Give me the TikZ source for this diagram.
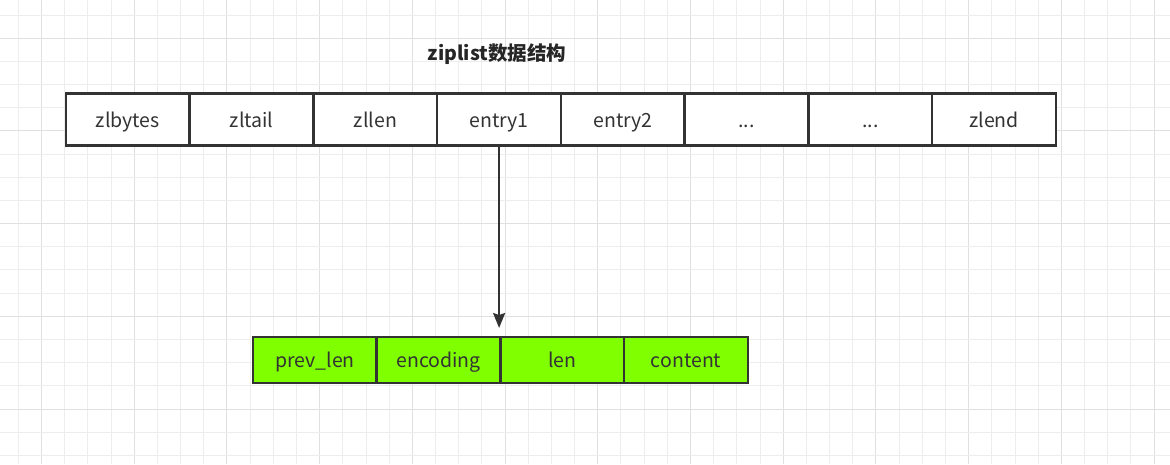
\documentclass[tikz,border=0pt]{standalone}
\usepackage{fontspec}
\setmainfont{Noto Sans CJK SC}
\usepackage{tikz}
\usetikzlibrary{arrows.meta}

\definecolor{gridminor}{HTML}{EDEDED}
\definecolor{gridmajor}{HTML}{E0E0E0}
\definecolor{cellline}{HTML}{333333}
\definecolor{fieldgreen}{HTML}{80FF00}

\begin{document}
\begin{tikzpicture}[x=1pt, y=-1pt,
	cell/.style = {draw = cellline, line width = 2.5pt, fill = white, text = black!80,
		minimum width = 123.75pt, minimum height = 52pt, inner sep = 0pt, outer sep = 0pt,
		text height = 15.5pt, text depth = 0pt, font = \fontsize{19.5}{22}\selectfont},
	field/.style = {cell, fill = fieldgreen, minimum height = 46pt},
	link/.style = {draw = cellline, line width = 2pt, -{Stealth[length = 15pt, width = 12pt, inset = 2pt]}}]
			\fill[white] (0, 0) rectangle (1170, 464);
			\useasboundingbox (0, 0) rectangle (1170, 464);
			% background grid
			\foreach \i in {0, ..., 49} {
				\pgfmathsetmacro{\gx}{18.3 + 23.18*\i}
				\ifnum\numexpr\i-4*(\i/4)\relax=1 \def\gc{gridmajor}\else \def\gc{gridminor}\fi
				\draw[\gc, line width = 1pt] (\gx, 0) -- (\gx, 464);
			}
			\foreach \j in {0, ..., 19} {
				\pgfmathsetmacro{\gy}{15 + 23.18*\j}
				\ifnum\numexpr\j-4*(\j/4)\relax=1 \def\gc{gridmajor}\else \def\gc{gridminor}\fi
				\draw[\gc, line width = 1pt] (0, \gy) -- (1170, \gy);
			}
			\node[text = black!85, font = \fontsize{19.5}{22}\selectfont\bfseries] (title) at (497, 54) {ziplist数据结构};
			% ziplist
			\node[cell] (zlbytes) at (127.9, 119.5) {zlbytes};
			\node[cell] (zltail) at (251.6, 119.5) {zltail};
			\node[cell] (zllen) at (375.4, 119.5) {zllen};
			\node[cell] (e1) at (499.1, 119.5) {entry1};
			\node[cell] (e2) at (622.9, 119.5) {entry2};
			\node[cell] (dotsa) at (746.6, 119.5) {...};
			\node[cell] (dotsb) at (870.4, 119.5) {...};
			\node[cell] (zlend) at (994.1, 119.5) {zlend};
			% entry
			\node[field] (prevlen) at (315, 360) {prev\_len};
			\node[field] (enc) at (438.6, 360) {encoding};
			\node[field] (len) at (562.4, 360) {len};
			\node[field] (content) at (686.1, 360) {content};
			\draw[link, shorten > = 9pt] (e1.south) -- (e1.south |- enc.north);
		\end{tikzpicture}
\end{document}
